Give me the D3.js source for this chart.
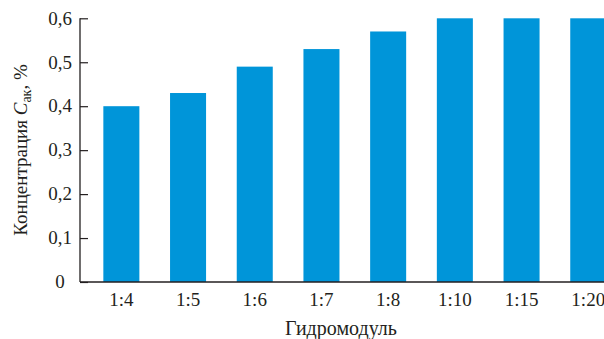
<!DOCTYPE html>
<html>
<head>
<meta charset="utf-8">
<script src="https://cdn.jsdelivr.net/npm/d3@7"></script>
<style>
  html, body { margin: 0; padding: 0; background: #fff; }
  svg { display: block; }
  text { font-family: "Liberation Serif", "DejaVu Serif", serif; fill: #231f20; }
</style>
</head>
<body>
<svg id="chart" width="604" height="339"></svg>
<script>
const categories = ["1:4", "1:5", "1:6", "1:7", "1:8", "1:10", "1:15", "1:20"];
const values = [0.40, 0.43, 0.49, 0.53, 0.57, 0.60, 0.60, 0.60];
const yTicks = [0, 0.1, 0.2, 0.3, 0.4, 0.5, 0.6];
const yTickLabels = ["0", "0,1", "0,2", "0,3", "0,4", "0,5", "0,6"];
const xTitle = "Гидромодуль";

const svg = d3.select("#chart");
const axisX = 80, y0 = 282, y1 = 18.3;
const step = 66.7;

const x = d3.scaleBand()
  .domain(categories)
  .range([axisX, axisX + step * (categories.length - 0.46 + 0.7)])
  .paddingInner(0.46)
  .paddingOuter(0.35);

const y = d3.scaleLinear().domain([0, 0.6]).range([y0, y1]);

// bars
svg.append("g").selectAll("rect")
  .data(values)
  .join("rect")
  .attr("x", (d, i) => x(categories[i]))
  .attr("width", x.bandwidth())
  .attr("y", d => y(d))
  .attr("height", d => y(0) - y(d))
  .attr("fill", "#0095d9");

// y axis
const yAxis = d3.axisRight(y)
  .tickValues(yTicks)
  .tickSize(8)
  .tickFormat("");
const gy = svg.append("g").attr("transform", `translate(${axisX},0)`).call(yAxis);
gy.select(".domain").remove();
gy.selectAll(".tick line").attr("stroke", "#231f20").attr("stroke-width", 1.2);

svg.append("line")
  .attr("x1", axisX).attr("x2", axisX)
  .attr("y1", y(0.6)).attr("y2", y(0))
  .attr("stroke", "#231f20").attr("stroke-width", 1.3);

svg.append("g").selectAll("text")
  .data(yTicks)
  .join("text")
  .attr("x", 60)
  .attr("y", d => y(d))
  .attr("dy", "0.33em")
  .attr("text-anchor", "middle")
  .attr("font-size", 19)
  .text((d, i) => yTickLabels[i]);

// x axis baseline
svg.append("line")
  .attr("x1", axisX).attr("x2", 604)
  .attr("y1", y(0)).attr("y2", y(0))
  .attr("stroke", "#231f20").attr("stroke-width", 1.3);

// x labels
svg.append("g").selectAll("text")
  .data(categories)
  .join("text")
  .attr("x", d => x(d) + x.bandwidth() / 2)
  .attr("y", 306)
  .attr("text-anchor", "middle")
  .attr("font-size", 19)
  .text(d => d);

// x title
svg.append("text")
  .attr("x", 341)
  .attr("y", 335)
  .attr("text-anchor", "middle")
  .attr("font-size", 20)
  .text(xTitle);

// y title
const yt = svg.append("text")
  .attr("transform", "translate(27,150) rotate(-90)")
  .attr("text-anchor", "middle")
  .attr("font-size", 19);
yt.append("tspan").text("Концентрация ");
yt.append("tspan").attr("font-style", "italic").text("C");
yt.append("tspan").attr("font-size", 14).attr("dy", 4).text("ак");
yt.append("tspan").attr("dy", -4).text(", %");
</script>
</body>
</html>
